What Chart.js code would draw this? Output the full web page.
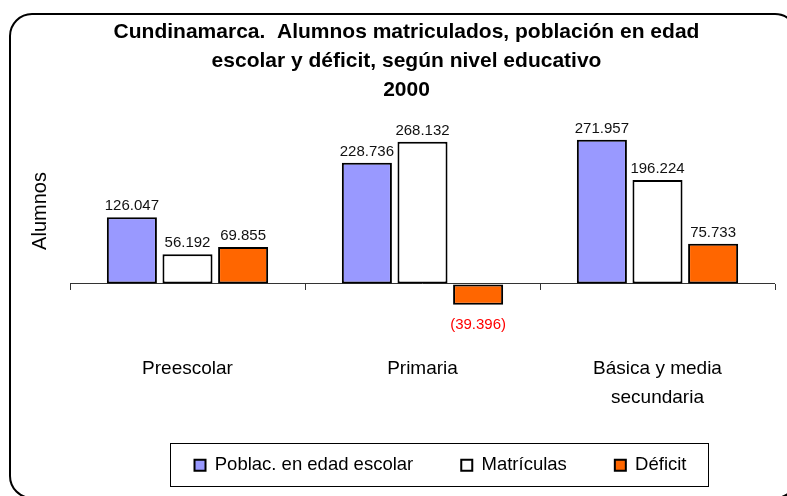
<!DOCTYPE html>
<html>
<head>
<meta charset="utf-8">
<script src="https://cdn.jsdelivr.net/npm/chart.js@4/dist/chart.umd.min.js"></script>
<style>
  html, body { margin: 0; padding: 0; background: #fff; }
  #wrap { width: 787px; height: 496px; position: relative; }
</style>
</head>
<body>
<div id="wrap"><canvas id="edChart"></canvas></div>
<script>
const categories = ['Preescolar', 'Primaria', ['Básica y media', 'secundaria']];
const seriesNames = ['Poblac. en edad escolar', 'Matrículas', 'Déficit'];
const poblacion = [126047, 228736, 271957];
const matriculas = [56192, 268132, 196224];
const deficit = [69855, -39396, 75733];
const titleLines = [
    'Cundinamarca.  Alumnos matriculados, población en edad',
    'escolar y déficit, según nivel educativo',
    '2000'
];
const yTitle = 'Alumnos';

const FONT = "'Liberation Sans', Arial, sans-serif";
const LEGEND_PAD = 48;

function formatEs(v) {
    let s = Math.abs(v).toString().replace(/\B(?=(\d{3})+(?!\d))/g, '.');
    return v < 0 ? '(' + s + ')' : s;
}

// rounded frame around the whole chart
const framePlugin = {
    id: 'frame',
    beforeDraw(chart) {
        const ctx = chart.ctx;
        ctx.save();
        ctx.fillStyle = '#fff';
        ctx.fillRect(0, 0, chart.width, chart.height);
        ctx.lineWidth = 2;
        ctx.strokeStyle = '#000';
        ctx.beginPath();
        ctx.roundRect(10, 14, 787, 484, 22);
        ctx.stroke();
        ctx.restore();
    }
};

// legend gets a fixed height, then title and legend are moved to where the original has them
const shiftPlugin = {
    id: 'shift',
    afterInit(chart) {
        const lg = chart.legend;
        const fit = lg.fit;
        lg.fit = function () {
            fit.call(this);
            this.height = 60;
        };
    },
    afterLayout(chart) {
        chart.titleBlock.left += 14;
        chart.titleBlock.right += 14;
        const lg = chart.legend;
        lg.left += 48;
        lg.right += 48;
        lg.top = 467 - LEGEND_PAD - 11;
        lg.bottom = chart.height;
        lg.height = lg.bottom - lg.top;
    }
};

// value labels, axis title, category tick marks on the zero line and the legend box
const extrasPlugin = {
    id: 'extras',
    afterDatasetsDraw(chart) {
        const ctx = chart.ctx;
        const x = chart.scales.x;
        const y = chart.scales.y;
        const y0 = y.getPixelForValue(0);

        ctx.save();
        ctx.strokeStyle = '#333';
        ctx.lineWidth = 1;
        let edges = [chart.chartArea.left];
        for (let i = 0; i < categories.length - 1; i++) {
            edges.push((x.getPixelForValue(i) + x.getPixelForValue(i + 1)) / 2);
        }
        edges.push(chart.chartArea.right);
        edges.forEach(e => {
            ctx.beginPath();
            ctx.moveTo(Math.round(e) + 0.5, y0);
            ctx.lineTo(Math.round(e) + 0.5, y0 + 6);
            ctx.stroke();
        });

        ctx.font = '15px ' + FONT;
        ctx.textAlign = 'center';
        chart.data.datasets.forEach((ds, di) => {
            chart.getDatasetMeta(di).data.forEach((bar, i) => {
                const v = ds.data[i];
                if (v >= 0) {
                    ctx.fillStyle = '#111';
                    ctx.textBaseline = 'alphabetic';
                    ctx.fillText(formatEs(v), bar.x, bar.y - 7);
                } else {
                    ctx.fillStyle = '#ff0000';
                    ctx.textBaseline = 'top';
                    ctx.fillText(formatEs(v), bar.x, bar.y + 12);
                }
            });
        });

        ctx.translate(40, 211);
        ctx.rotate(-Math.PI / 2);
        ctx.font = '20px ' + FONT;
        ctx.fillStyle = '#000';
        ctx.textBaseline = 'middle';
        ctx.fillText(yTitle, 0, 0);
        ctx.restore();
    },
    afterDraw(chart) {
        const lg = chart.legend;
        const boxes = lg.legendHitBoxes;
        if (!boxes || !boxes.length) return;
        const first = boxes[0];
        const last = boxes[boxes.length - 1];
        const cy = first.top + first.height / 2;
        const ctx = chart.ctx;
        ctx.save();
        ctx.strokeStyle = '#000';
        ctx.lineWidth = 1;
        const left = Math.round(first.left - 25);
        const right = Math.round(last.left + last.width + 22);
        ctx.strokeRect(left + 0.5, Math.round(cy - 22) + 0.5, right - left, 43);
        ctx.restore();
    }
};

new Chart(document.getElementById('edChart'), {
    type: 'bar',
    data: {
        labels: categories,
        datasets: [{
            label: seriesNames[0],
            data: poblacion,
            backgroundColor: '#9999ff'
        }, {
            label: seriesNames[1],
            data: matriculas,
            backgroundColor: '#ffffff'
        }, {
            label: seriesNames[2],
            data: deficit,
            backgroundColor: '#ff6600'
        }]
    },
    options: {
        responsive: true,
        maintainAspectRatio: false,
        animation: false,
        datasets: {
            bar: {
                borderColor: '#000',
                borderWidth: 2,
                borderSkipped: false,
                categoryPercentage: 0.71,
                barPercentage: 0.9
            }
        },
        layout: {
            padding: { left: 10, right: 12, top: 0, bottom: 0 }
        },
        scales: {
            x: {
                border: { display: false },
                grid: { display: false, drawTicks: false },
                ticks: {
                    color: '#000',
                    padding: 17,
                    maxRotation: 0,
                    font: { family: FONT, size: 19, lineHeight: 1.53 }
                },
                afterFit(scale) {
                    scale.height = 99;
                }
            },
            y: {
                min: -100000,
                max: 300000,
                border: { display: false },
                grid: {
                    drawTicks: false,
                    color: ctx => ctx.tick && ctx.tick.value === 0 ? '#333' : 'rgba(0,0,0,0)'
                },
                ticks: { display: false, stepSize: 100000 },
                afterFit(scale) {
                    scale.width = 60;
                }
            }
        },
        plugins: {
            title: {
                display: true,
                text: titleLines,
                color: '#000',
                padding: { top: 18, bottom: 20 },
                font: { family: FONT, size: 21, weight: 'bold', lineHeight: 1.38 }
            },
            legend: {
                position: 'bottom',
                labels: {
                    color: '#000',
                    boxWidth: 11,
                    boxHeight: 11,
                    padding: LEGEND_PAD,
                    font: { family: FONT, size: 18.5 }
                }
            },
            tooltip: { enabled: false }
        }
    },
    plugins: [framePlugin, shiftPlugin, extrasPlugin]
});
</script>
</body>
</html>
